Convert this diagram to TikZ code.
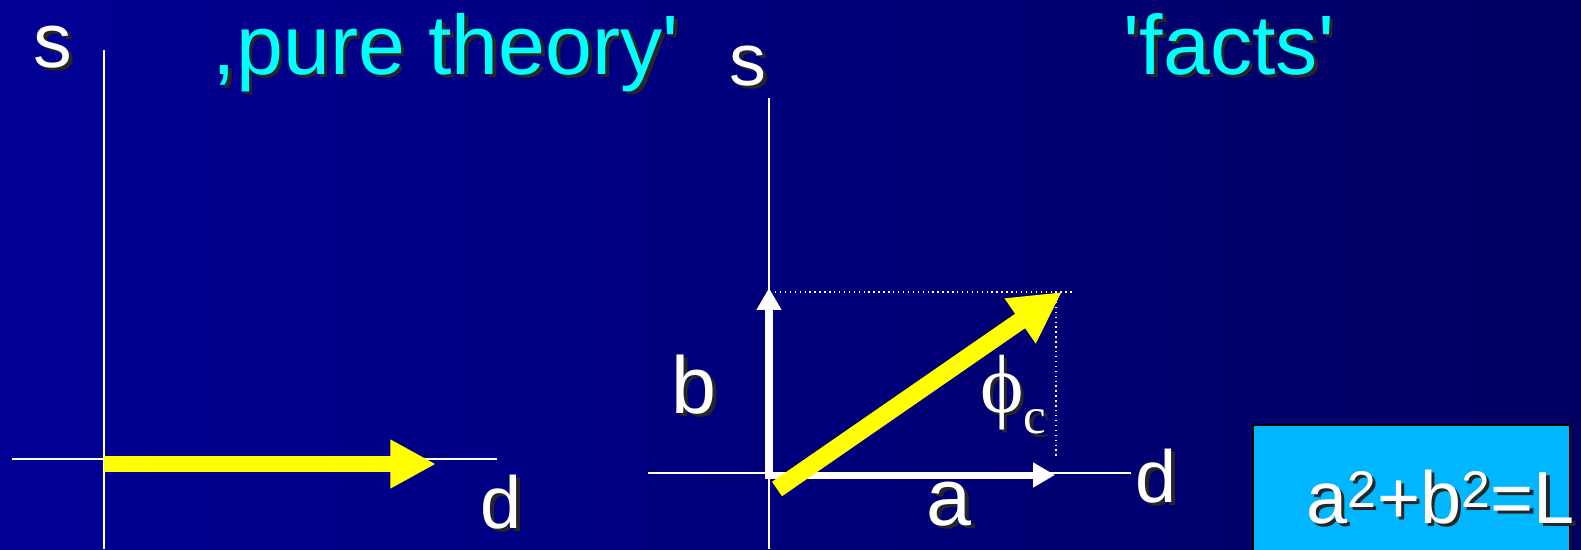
\documentclass[tikz,border=0pt]{standalone}
\usepackage{fontspec}
\newfontfamily\slidefont{Liberation Sans}
\newfontfamily\symbfont{Liberation Serif}
\usetikzlibrary{arrows.meta, positioning}
\definecolor{slideblue}{RGB}{0, 0, 148}
\definecolor{slidedark}{RGB}{0, 0, 98}
\definecolor{titlecyan}{RGB}{0, 255, 255}
\definecolor{boxblue}{RGB}{0, 183, 255}
\definecolor{vecyellow}{RGB}{255, 255, 0}
\newcommand{\shadowtxt}[1]{\makebox[0pt][l]{\hspace{2pt}\raisebox{-2pt}{\color{black!85}#1}}#1}

\begin{document}
\begin{tikzpicture}[x=0.02cm, y=-0.02cm,
    axisline/.style={white, line width=1.1pt},
    bigvec/.style={vecyellow, line width=9pt, -{Triangle[length=26pt, width=26pt]}},
    compvec/.style={white, line width=4pt, -{Triangle[length=12.5pt, width=13.5pt]}},
    helper/.style={white, dotted, line width=0.8pt},
    txt/.style={white, inner sep=0pt, anchor=base, font=\slidefont\fontsize{46}{50}\selectfont},
    smalltxt/.style={txt, font=\slidefont\fontsize{42}{48}\selectfont},
    title/.style={txt, text=titlecyan, font=\slidefont\fontsize{48}{54}\selectfont}]

  % Slide background
  \clip (0,0) rectangle (1581,549);
  \shade[left color=slideblue, right color=slidedark] (0,0) rectangle (1581,549);

  % Titles
  \node[title] (theory) at (446,74) {\shadowtxt{,pure theory'}};
  \node[title] (facts) at (1229,74) {\shadowtxt{'facts'}};

  % Left axes (pure theory)
  \coordinate (oL) at (104,459);
  \draw[axisline] (104,50) -- (104,549);
  \draw[axisline] (12,459) -- (497,459);
  \node[txt, font=\slidefont\fontsize{44}{50}\selectfont] (sL) at (53,67) {\shadowtxt{s}};
  \node[smalltxt] (dL) at (501,528) {\shadowtxt{d}};

  \coordinate (vL0) at (104,464);
  \coordinate (vL1) at (436,464);
  \draw[bigvec] (vL0) -- (vL1);

  % Right axes (facts)
  \coordinate (oR) at (769,473);
  \draw[axisline] (769,98) -- (769,549);
  \draw[axisline] (648,473) -- (1131,473);
  \node[txt, font=\slidefont\fontsize{42}{48}\selectfont] (sR) at (748,85) {\shadowtxt{s}};
  \node[smalltxt] (dR) at (1156,502) {\shadowtxt{d}};

  % Components a and b
  \coordinate (bTip) at (769,288);
  \coordinate (aTip) at (1055,475);
  \draw[compvec] (769,478) -- (bTip);
  \draw[compvec] (765,475) -- (aTip);
  \node[txt] (bLbl) at (694,413) {\shadowtxt{b}};
  \node[txt] (aLbl) at (949,525) {\shadowtxt{a}};

  % Measured vector
  \coordinate (vR0) at (777,489);
  \coordinate (vR1) at (1062,292);
  \draw[helper] (775,292) -- (1072,292);
  \draw[helper] (1056,292) -- (1056,457);
  \draw[bigvec, line width=10pt, -{Triangle[length=29pt, width=29pt]}] (vR0) -- (vR1);
  \node[txt, anchor=base west, font=\symbfont\fontsize{47}{50}\selectfont] (phiLbl) at (980,412)
    {\shadowtxt{ϕ}\raisebox{-12.5pt}{\fontsize{29}{32}\selectfont\shadowtxt{c}}};

  % Result box
  \fill[boxblue, draw=black, line width=0.8pt] (1253,425) rectangle (1570,560);
  \node[smalltxt, anchor=base west] (sumLbl) at (1306,523)
    {\shadowtxt{a\textsuperscript{2}+b\textsuperscript{2}=L}};
\end{tikzpicture}
\end{document}
